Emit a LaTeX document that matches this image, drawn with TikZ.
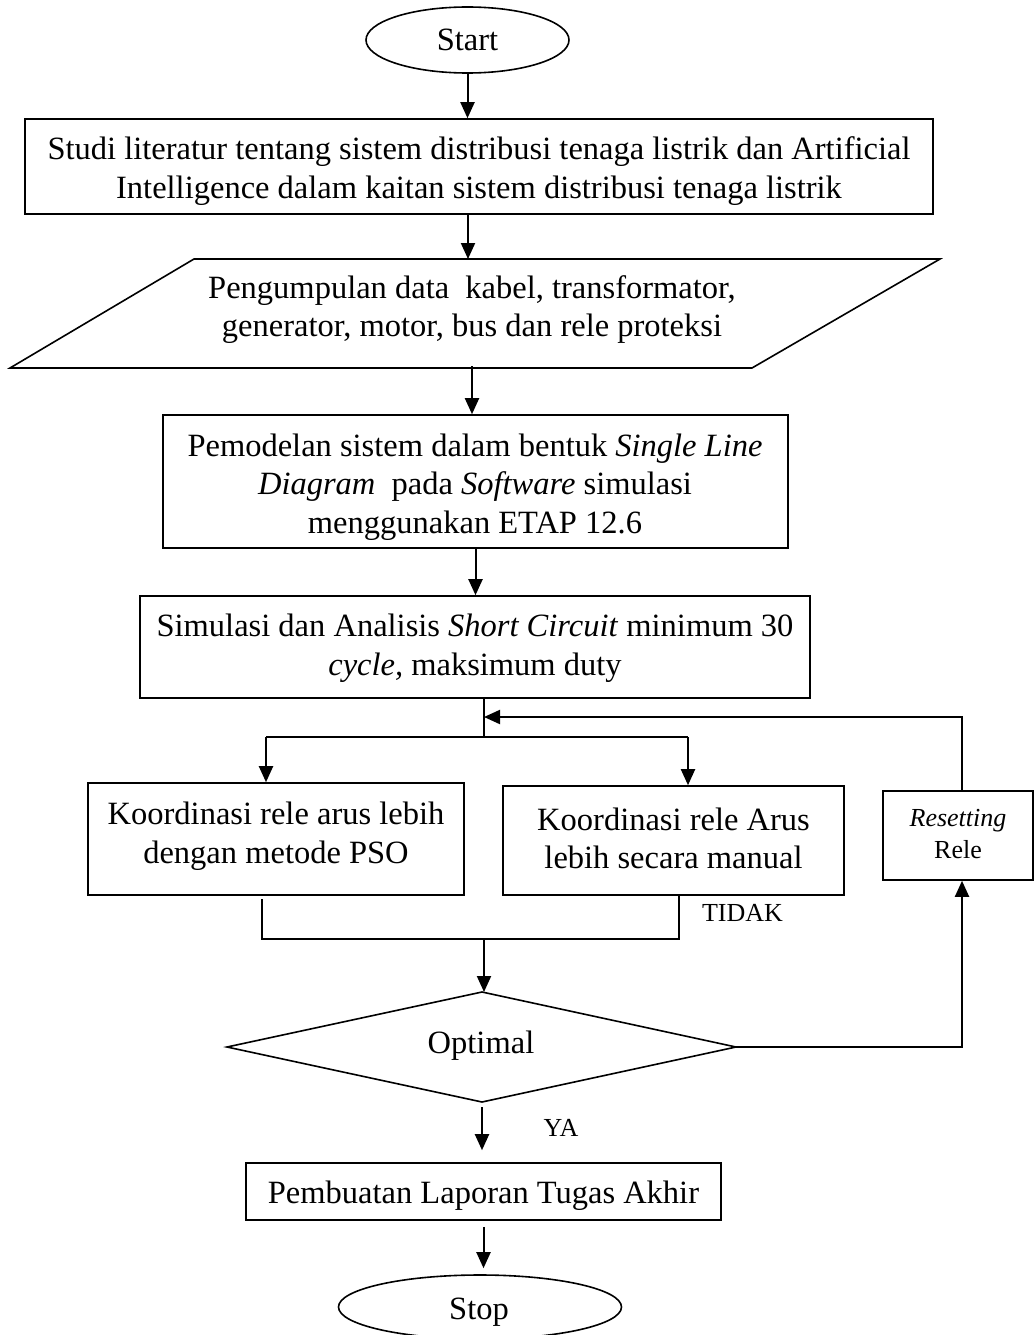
\documentclass[tikz,border=0pt]{standalone}
\usepackage{fontspec}
\setmainfont{Liberation Serif}
\usetikzlibrary{arrows.meta,shapes.geometric}
\begin{document}
\begin{tikzpicture}[x=1pt,y=-1pt,
  box/.style={draw, line width=1.6pt, inner sep=0pt},
  txt/.style={align=center, inner sep=0pt, font=\fontsize{32.5}{38.5}\selectfont},
  small/.style={align=center, inner sep=0pt, font=\fontsize{26}{32}\selectfont},
  arr/.style={line width=2pt, -{Triangle[length=16pt,width=14pt]}},
  ln/.style={line width=2pt},
]
\useasboundingbox (0,0) rectangle (1035,1335);
\fill[white] (0,0) rectangle (1035,1335);

% shapes
\node[box, ellipse, minimum width=203, minimum height=66, txt] (start) at (467.5,40) {Start};
\node[box, minimum width=908, minimum height=95] (b1) at (479,166.5) {};
\node[txt] (t1) at (479,171) {Studi literatur tentang sistem distribusi tenaga listrik dan Artificial\\Intelligence dalam kaitan sistem distribusi tenaga listrik};

\coordinate (pTL) at (194,259);
\coordinate (pTR) at (940,259);
\coordinate (pBR) at (752,368);
\coordinate (pBL) at (10,368);
\draw[line width=1.6pt, line join=miter] (pTL) -- (pTR) -- (pBR) -- (pBL) -- cycle;
\node[txt] (tp) at (472,309.5) {Pengumpulan data\ \ kabel, transformator,\\generator, motor, bus dan rele proteksi};
\coordinate (pTop) at (468,259);
\coordinate (pBot) at (472,366);

\node[box, minimum width=625, minimum height=133] (b3) at (475.5,481.5) {};
\node[txt] (t3) at (475,487) {Pemodelan sistem dalam bentuk \textit{Single Line}\\\textit{Diagram}\ \ pada \textit{Software} simulasi\\menggunakan ETAP 12.6};

\node[box, minimum width=670, minimum height=102] (b4) at (475,647) {};
\node[txt] (t4) at (475,648) {Simulasi dan Analisis \textit{Short Circuit} minimum 30\\\textit{cycle,} maksimum duty};

\node[box, minimum width=376, minimum height=112] (bl) at (276,839) {};
\node[txt] (tl) at (276,836) {Koordinasi rele arus lebih\\dengan metode PSO};

\node[box, minimum width=341, minimum height=109] (bm) at (673.5,840.5) {};
\node[txt] (tm) at (673.5,838.5) {Koordinasi rele Arus\\lebih secara manual};

\node[box, minimum width=150, minimum height=89] (br) at (958,835.5) {};
\node[small] (tr) at (958,834) {\textit{Resetting}\\Rele};

% decision diamond
\coordinate (dT) at (482,992);
\coordinate (dR) at (736,1047);
\coordinate (dB) at (482,1102);
\coordinate (dL) at (227,1047);
\draw[line width=1.6pt] (dT) -- (dR) -- (dB) -- (dL) -- cycle;
\node[txt] (dia) at (481,1046) {Optimal};

\node[box, minimum width=475, minimum height=57] (bf) at (483.5,1191.5) {};
\node[txt] (tf) at (483.5,1196) {Pembuatan Laporan Tugas Akhir};

\node[box, ellipse, minimum width=283, minimum height=64] (stop) at (480,1307) {};
\node[txt] (ts) at (479,1312.5) {Stop};

\node[small, anchor=base] (tidak) at (742.5,921) {TIDAK};
\node[small, anchor=base] (ya) at (561,1136) {YA};

% connectors
\draw[arr] (start.south) -- (start.south |- b1.north);
\draw[arr] (b1.south -| pTop) -- (pTop);
\draw[arr] (pBot) -- (pBot |- b3.north);
\draw[arr] (b3.south) -- (b3.south |- b4.north);

\coordinate (split) at (484,737);
\coordinate (sl) at (266,737);
\coordinate (sr) at (688,737);
\draw[ln] (b4.south -| split) -- (split);
\draw[ln] (sl) -- (sr);
\draw[arr] (sl) -- (sl |- bl.north);
\draw[arr] (sr) -- (sr |- bm.north);

\coordinate (mlTop) at (262,899);
\coordinate (ml) at (262,939);
\coordinate (mr) at (679,939);
\coordinate (mc) at (484,939);
\draw[ln] (mlTop) -- (ml) -- (mr) -- (mr |- bm.south);
\draw[arr] (mc) -- (mc |- dT);

\coordinate (rx) at (962,1047);
\coordinate (fb) at (484,717);
\draw[arr] (dR) -| (rx |- br.south);
\draw[arr] (rx |- br.north) |- (fb);

\draw[arr, shorten <=5pt, shorten >=12pt] (dB) -- (dB |- bf.north);
\draw[arr, shorten <=6pt, shorten >=6pt] (bf.south) -- (bf.south |- stop.north);
\end{tikzpicture}
\end{document}
